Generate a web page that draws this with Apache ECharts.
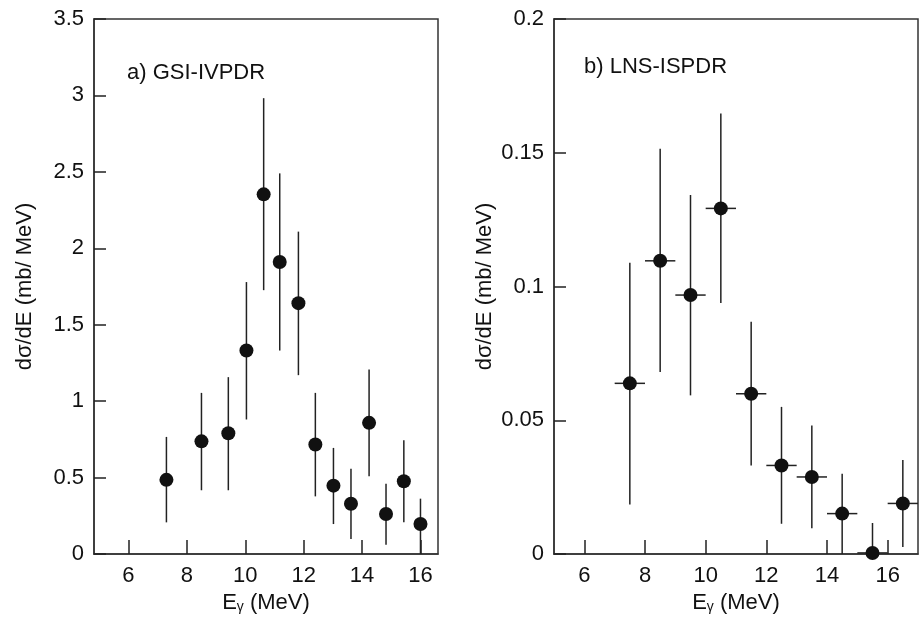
<!DOCTYPE html>
<html>
<head>
<meta charset="utf-8">
<script src="https://cdn.jsdelivr.net/npm/echarts@6/dist/echarts.min.js"></script>
<style>html,body{margin:0;padding:0;background:#fff;}#c{width:920px;height:620px;}</style>
</head>
<body>
<div id="c"></div>
<script>
// Panel a) GSI-IVPDR
const gsiE = [7.30, 8.50, 9.42, 10.04, 10.63, 11.18, 11.82, 12.40, 13.02, 13.62, 14.24, 14.82, 15.43, 16.00];
const gsiY = [0.485, 0.737, 0.790, 1.331, 2.353, 1.910, 1.641, 0.716, 0.447, 0.329, 0.858, 0.262, 0.476, 0.196];
const gsiLo = [0.207, 0.417, 0.417, 0.880, 1.726, 1.331, 1.170, 0.377, 0.196, 0.098, 0.508, 0.061, 0.207, 0.000];
const gsiHi = [0.766, 1.054, 1.157, 1.779, 2.982, 2.490, 2.109, 1.054, 0.694, 0.557, 1.207, 0.460, 0.744, 0.362];

// Panel b) LNS-ISPDR
const lnsE = [7.5, 8.5, 9.5, 10.5, 11.5, 12.5, 13.5, 14.5, 15.5, 16.5];
const lnsBinHalf = [0.5, 0.5, 0.5, 0.5, 0.5, 0.5, 0.5, 0.5, 0.5, 0.5];
const lnsY = [0.0638, 0.1096, 0.0968, 0.1292, 0.0599, 0.0331, 0.0288, 0.0151, 0.0004, 0.0189];
const lnsLo = [0.0185, 0.0680, 0.0593, 0.0938, 0.0331, 0.0113, 0.0096, 0.0000, 0.0000, 0.0026];
const lnsHi = [0.1089, 0.1515, 0.1342, 0.1647, 0.0868, 0.0550, 0.0480, 0.0300, 0.0116, 0.0351];

// Tick labels
const xTicks = [6, 8, 10, 12, 14, 16];
const yTicksA = [0, 0.5, 1, 1.5, 2, 2.5, 3, 3.5];
const yTicksB = [0, 0.05, 0.1, 0.15, 0.2];

const FONT = '"Liberation Sans", Arial, sans-serif';
const FS = 22;
const INK = '#111';

const chart = echarts.init(document.getElementById('c'), null, {renderer: 'canvas'});

function xAxisDef(idx, min, max) {
  return {
    type: 'value', gridIndex: idx, min: min, max: max,
    name: 'E{sub|γ} (MeV)', nameLocation: 'middle', nameGap: 33,
    nameTextStyle: {
      color: INK, fontFamily: FONT, fontSize: FS,
      rich: { sub: { fontSize: 14, fontFamily: FONT, color: INK, padding: [9, 0, 0, 0] } }
    },
    axisLine: { show: true, onZero: false, lineStyle: { color: '#333', width: 1.5 } },
    axisTick: { show: true, inside: true, length: 14, customValues: xTicks, lineStyle: { color: '#222', width: 1.5 } },
    axisLabel: { show: true, customValues: xTicks, margin: 11, color: INK, fontFamily: FONT, fontSize: FS },
    splitLine: { show: false }
  };
}
function yAxisDef(idx, min, max, ticks) {
  return {
    type: 'value', gridIndex: idx, min: min, max: max,
    name: 'dσ/dE (mb/ MeV)', nameLocation: 'middle', nameGap: 58,
    nameTextStyle: { color: INK, fontFamily: FONT, fontSize: FS },
    axisLine: { show: true, onZero: false, lineStyle: { color: '#333', width: 1.5 } },
    axisTick: { show: true, inside: true, length: 12, customValues: ticks, lineStyle: { color: '#222', width: 1.5 } },
    axisLabel: { show: true, customValues: ticks, margin: 10, color: INK, fontFamily: FONT, fontSize: FS },
    splitLine: { show: false }
  };
}

function errData(xs, ys, lo, hi, half) {
  return xs.map((x, i) => [x, ys[i], lo[i], hi[i], half ? half[i] : 0]);
}

function errSeries(idx, data) {
  return {
    type: 'custom', xAxisIndex: idx, yAxisIndex: idx, clip: true,
    data: data,
    encode: { x: 0, y: [1, 2, 3] },
    renderItem: function (params, api) {
      const x = api.value(0), y = api.value(1), lo = api.value(2), hi = api.value(3), h = api.value(4);
      const pLo = api.coord([x, lo]), pHi = api.coord([x, hi]);
      const children = [{
        type: 'line', shape: { x1: pLo[0], y1: pLo[1], x2: pHi[0], y2: pHi[1] },
        style: { stroke: '#222', lineWidth: 1.5 }
      }];
      if (h > 0) {
        const pL = api.coord([x - h, y]), pR = api.coord([x + h, y]);
        children.push({
          type: 'line', shape: { x1: pL[0], y1: pL[1], x2: pR[0], y2: pR[1] },
          style: { stroke: '#222', lineWidth: 1.5 }
        });
      }
      return { type: 'group', children: children };
    },
    z: 2
  };
}

function dotSeries(idx, xs, ys) {
  return {
    type: 'scatter', xAxisIndex: idx, yAxisIndex: idx,
    data: xs.map((x, i) => [x, ys[i]]),
    symbol: 'circle', symbolSize: 14,
    itemStyle: { color: INK, opacity: 1 },
    clip: false, z: 3
  };
}

chart.setOption({
  animation: false,
  backgroundColor: '#fff',
  title: [
    { text: 'a) GSI-IVPDR', left: 127, top: 62, padding: 0, textStyle: { fontFamily: FONT, fontSize: FS, fontWeight: 'normal', color: INK } },
    { text: 'b) LNS-ISPDR', left: 584, top: 56, padding: 0, textStyle: { fontFamily: FONT, fontSize: FS, fontWeight: 'normal', color: INK } }
  ],
  grid: [
    { left: 94, top: 19, width: 344, height: 535, show: true, borderColor: '#333', borderWidth: 1.5, backgroundColor: 'transparent' },
    { left: 554, top: 19, width: 364, height: 535, show: true, borderColor: '#333', borderWidth: 1.5, backgroundColor: 'transparent' }
  ],
  xAxis: [ xAxisDef(0, 4.82, 16.6), xAxisDef(1, 5, 17) ],
  yAxis: [ yAxisDef(0, 0, 3.5, yTicksA), yAxisDef(1, 0, 0.2, yTicksB) ],
  series: [
    errSeries(0, errData(gsiE, gsiY, gsiLo, gsiHi, null)),
    dotSeries(0, gsiE, gsiY),
    errSeries(1, errData(lnsE, lnsY, lnsLo, lnsHi, lnsBinHalf)),
    dotSeries(1, lnsE, lnsY)
  ]
});
</script>
</body>
</html>
